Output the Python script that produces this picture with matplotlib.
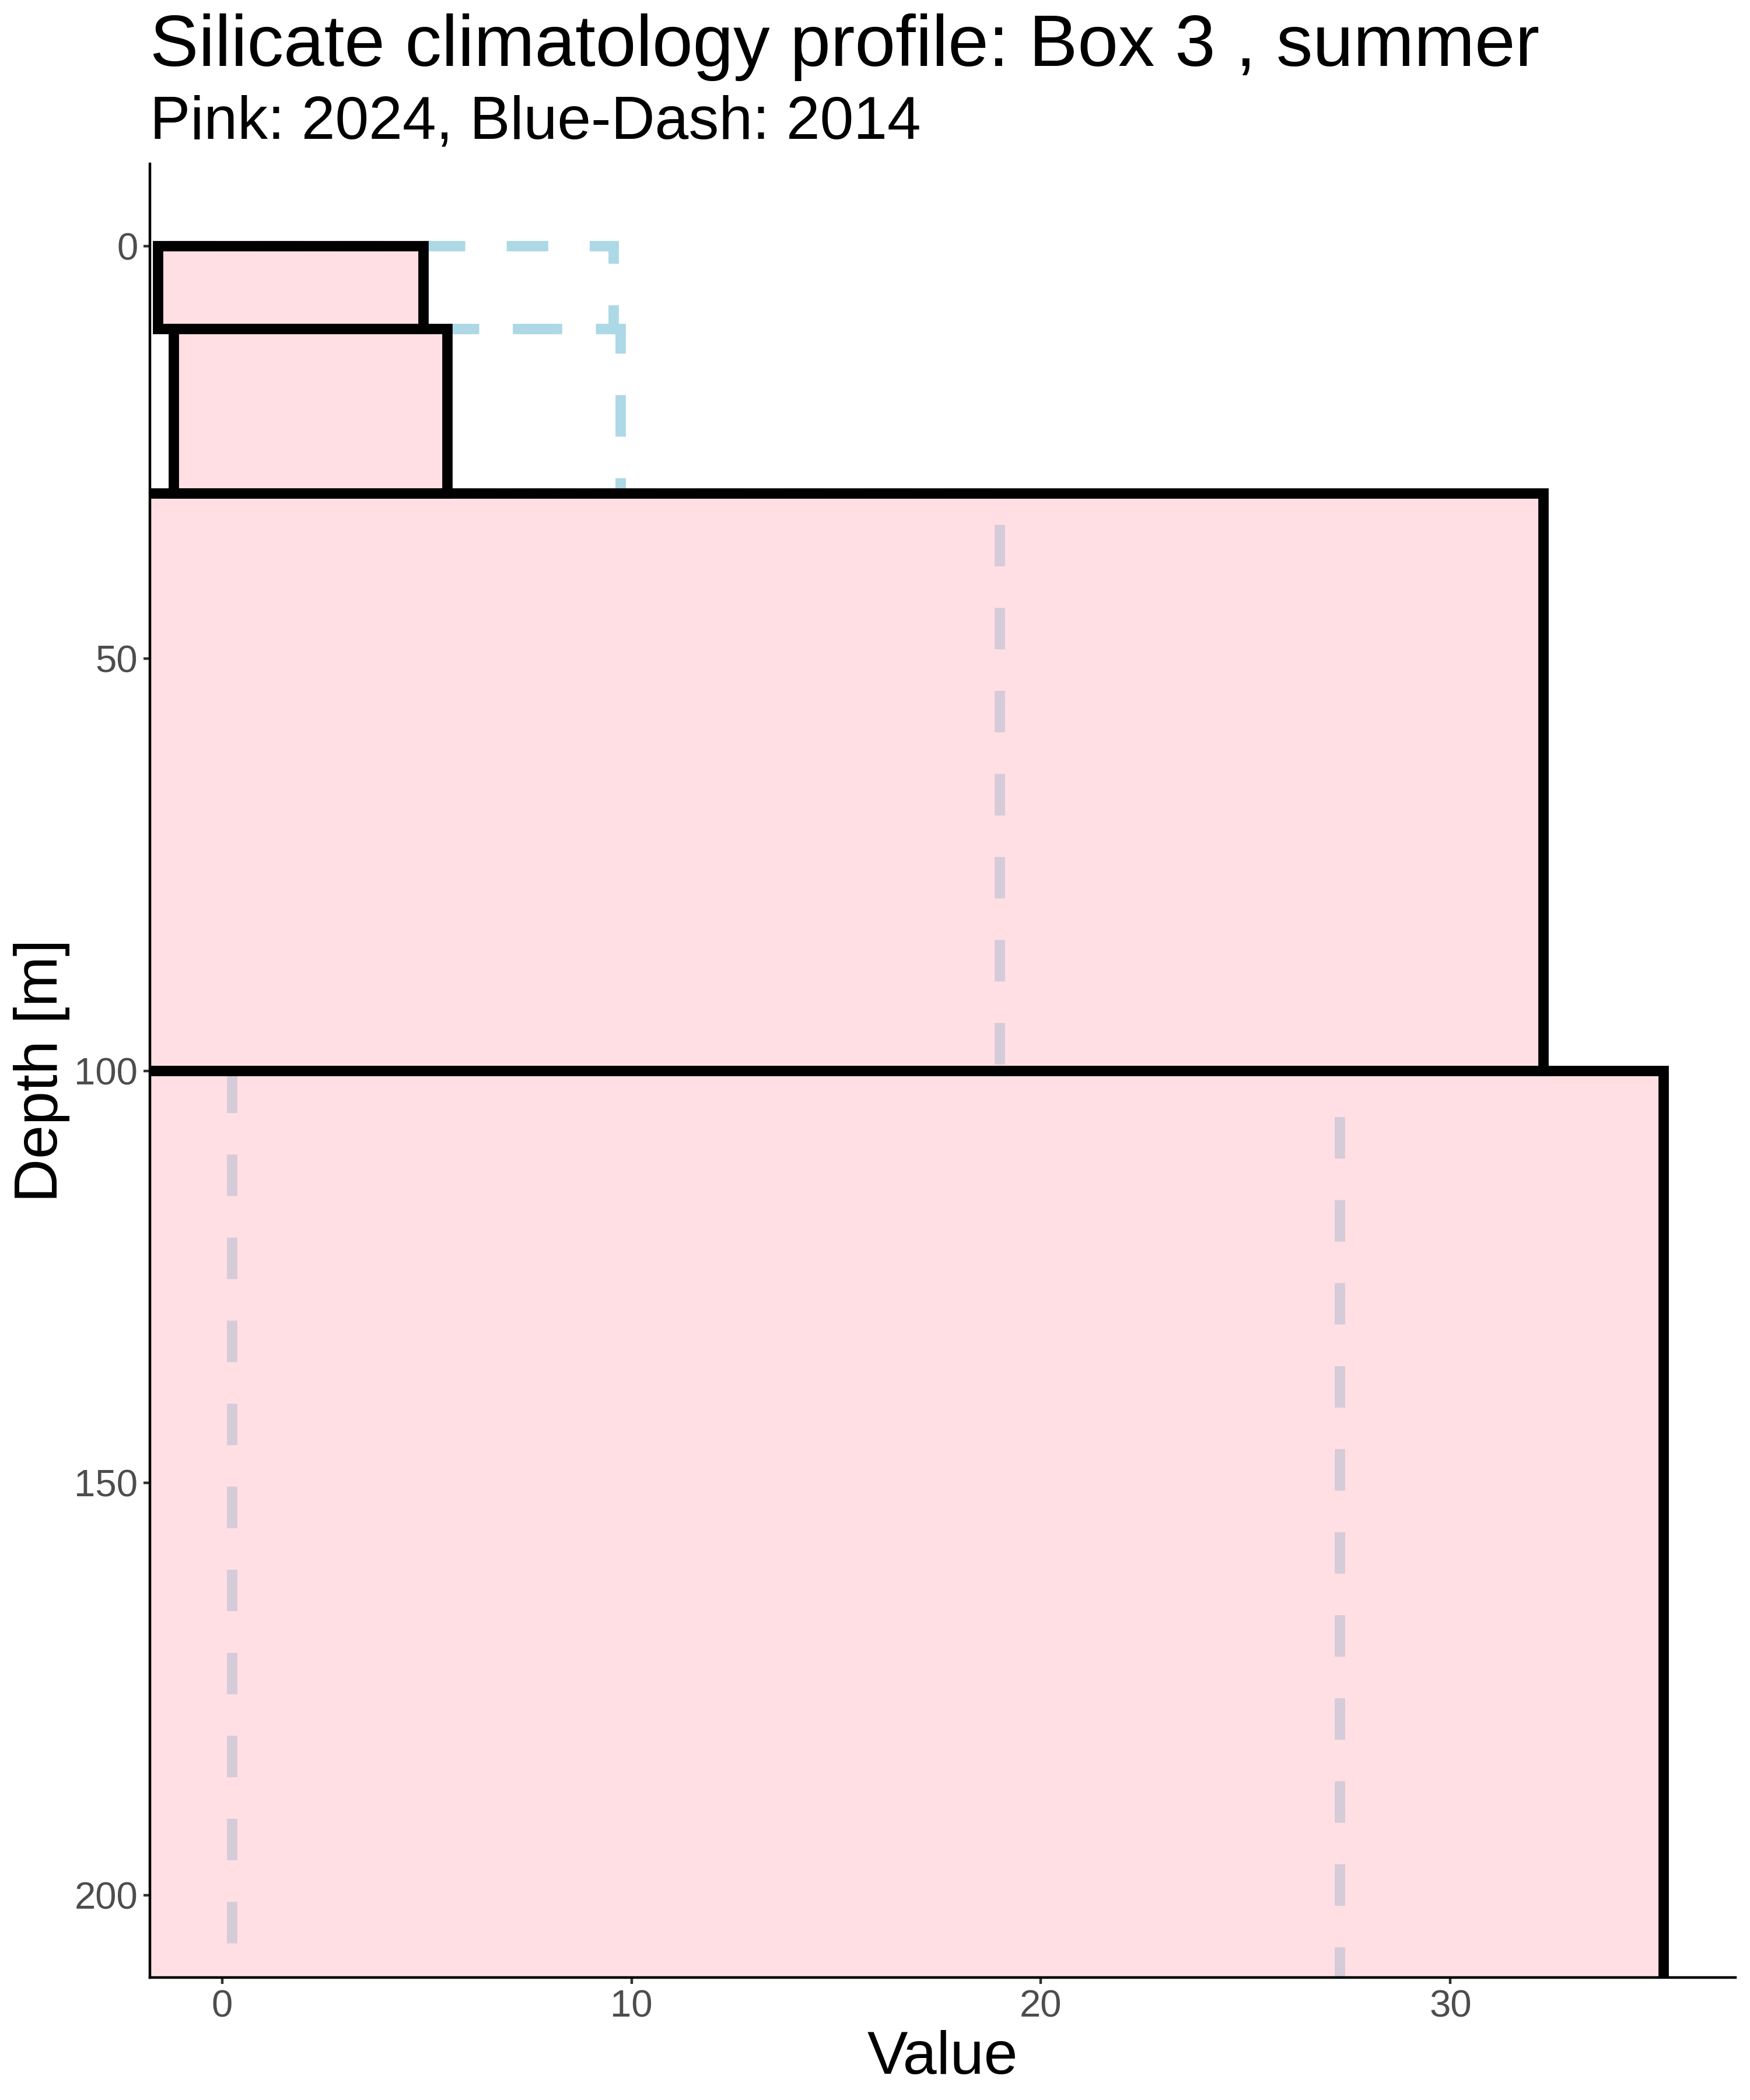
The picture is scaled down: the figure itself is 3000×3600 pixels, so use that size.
import matplotlib
matplotlib.use("Agg")
import matplotlib.pyplot as plt
from matplotlib.patches import Rectangle

plt.rcParams['font.family'] = ['Liberation Sans', 'DejaVu Sans']

# ---- data ----
# 2024 climatology (pink boxes): value range per depth layer
depth_top_2024 = [0, 10, 30, 100]
depth_bot_2024 = [10, 30, 100, 249.7]
xmin_2024 = [-1.56, -1.18, -2.6, -2.6]
xmax_2024 = [4.92, 5.50, 32.27, 35.21]

# 2014 climatology (blue dashed boxes)
depth_top_2014 = [0, 10, 30, 100]
depth_bot_2014 = [10, 30, 100, 249.7]
xmin_2014 = [-3.18, -2.84, -2.54, 0.25]
xmax_2014 = [9.56, 9.73, 19.0, 27.3]

x_ticks = [0, 10, 20, 30]
y_ticks = [0, 50, 100, 150, 200]
x_limits = (-1.76, 36.96)
y_limits = (210, -10)

title = "Silicate climatology profile: Box 3 , summer"
subtitle = "Pink: 2024, Blue-Dash: 2014"
xlabel = "Value"
ylabel = "Depth [m]"

# ---- figure ----
W, H = 3000, 3600
fig = plt.figure(figsize=(10, 12), dpi=300)
pl, pr, pt, pb = 257, 2975, 281, 3390
ax = fig.add_axes([pl / W, 1 - pb / H, (pr - pl) / W, (pb - pt) / H])

lw = 4.27
# dash phase offsets (in units of line width) so the dash pattern lines up
dash_offsets = [0, 0, 0, 0.83]
for (x0, x1, d0, d1), off in zip(zip(xmin_2014, xmax_2014, depth_top_2014, depth_bot_2014), dash_offsets):
    ax.add_patch(Rectangle((x0, d0), x1 - x0, d1 - d0,
                           facecolor=(1, 1, 1, 1e-6),
                           edgecolor='#ADD8E6', linewidth=lw,
                           linestyle=(off, (4, 4)), joinstyle='miter',
                           capstyle='butt', zorder=1))

for x0, x1, d0, d1 in zip(xmin_2024, xmax_2024, depth_top_2024, depth_bot_2024):
    ax.add_patch(Rectangle((x0, d0), x1 - x0, d1 - d0,
                           facecolor=(1.0, 192 / 255, 203 / 255, 0.5),
                           edgecolor='black', linewidth=lw,
                           joinstyle='miter', zorder=2))

ax.set_xlim(*x_limits)
ax.set_ylim(*y_limits)
ax.set_xticks(x_ticks)
ax.set_yticks(y_ticks)

for s in ['top', 'right']:
    ax.spines[s].set_visible(False)
for s in ['left', 'bottom']:
    ax.spines[s].set_linewidth(1.07)
    ax.spines[s].set_color('black')
    ax.spines[s].set_zorder(5)

ax.tick_params(axis='both', length=2.75, width=1.07, color='#333333',
               labelcolor='#4D4D4D', labelsize=15.7, pad=2.2)
ax.set_facecolor('white')

# titles
fig.text(pl / W, 1 - 113.3 / H, title, fontsize=30.0, ha='left', va='baseline', color='black')
fig.text(pl / W, 1 - 237.3 / H, subtitle, fontsize=24.9, ha='left', va='baseline', color='black')

# axis labels
fig.text((pl + pr) / 2 / W, 1 - 3555 / H, xlabel, fontsize=25, ha='center', va='baseline')
fig.text(98 / W, 1 - (pt + pb) / 2 / H, ylabel, fontsize=25, rotation=90,
         rotation_mode='anchor', ha='center', va='baseline')

fig.savefig('out.png', dpi=300, facecolor='white')
